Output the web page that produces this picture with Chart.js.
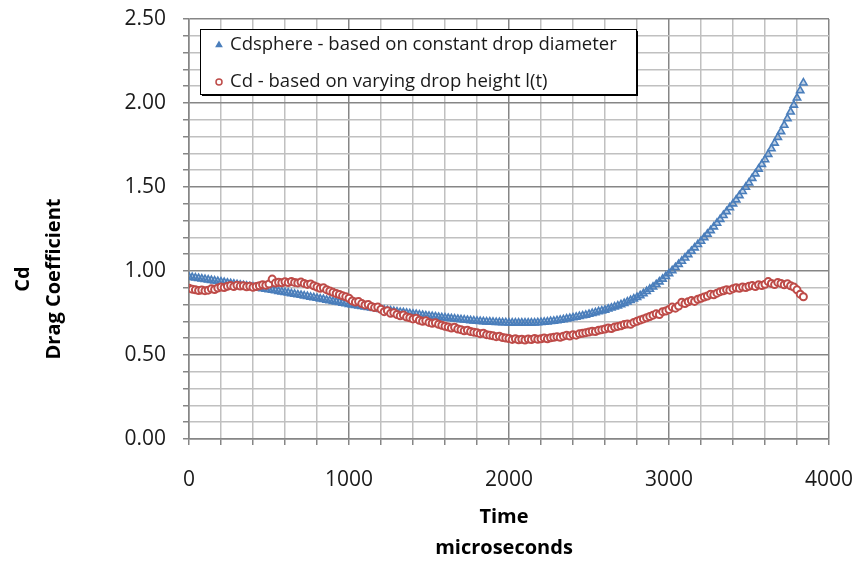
<!DOCTYPE html>
<html>
<head>
<meta charset="utf-8">
<script src="https://cdn.jsdelivr.net/npm/chart.js@4/dist/chart.umd.min.js"></script>
<style>
  body { margin: 0; background: #fff; }
  #wrap { width: 857px; height: 563px; }
</style>
</head>
<body>
<div id="wrap"><canvas id="cd-chart" width="857" height="563"></canvas></div>
<script>
// samples every 20 microseconds, starting at t = 0
const timeStep = 20;

// Cd sphere, constant drop diameter
const cdSphere = [
  0.965, 0.962, 0.959, 0.956, 0.953,
  0.950, 0.947, 0.944, 0.941, 0.938,
  0.935, 0.932, 0.929, 0.926, 0.923,
  0.920, 0.917, 0.914, 0.911, 0.908,
  0.905, 0.902, 0.899, 0.895, 0.892,
  0.889, 0.886, 0.883, 0.879, 0.876,
  0.873, 0.870, 0.866, 0.863, 0.859,
  0.856, 0.852, 0.849, 0.845, 0.842,
  0.838, 0.834, 0.831, 0.827, 0.824,
  0.820, 0.816, 0.813, 0.809, 0.806,
  0.802, 0.799, 0.796, 0.792, 0.789,
  0.786, 0.783, 0.780, 0.777, 0.774,
  0.771, 0.768, 0.765, 0.763, 0.760,
  0.757, 0.754, 0.752, 0.749, 0.747,
  0.744, 0.742, 0.739, 0.737, 0.734,
  0.732, 0.730, 0.728, 0.725, 0.723,
  0.721, 0.719, 0.717, 0.715, 0.713,
  0.711, 0.709, 0.707, 0.705, 0.704,
  0.702, 0.701, 0.699, 0.698, 0.697,
  0.696, 0.695, 0.694, 0.693, 0.693,
  0.692, 0.692, 0.691, 0.691, 0.691,
  0.691, 0.691, 0.692, 0.692, 0.693,
  0.694, 0.696, 0.698, 0.700, 0.702,
  0.705, 0.708, 0.711, 0.715, 0.718,
  0.722, 0.726, 0.730, 0.734, 0.738,
  0.743, 0.748, 0.753, 0.758, 0.763,
  0.768, 0.774, 0.780, 0.787, 0.793,
  0.800, 0.808, 0.816, 0.825, 0.834,
  0.843, 0.854, 0.866, 0.879, 0.892,
  0.905, 0.920, 0.936, 0.952, 0.968,
  0.985, 1.003, 1.021, 1.040, 1.059,
  1.078, 1.098, 1.118, 1.138, 1.158,
  1.178, 1.199, 1.220, 1.241, 1.263,
  1.285, 1.308, 1.331, 1.354, 1.377,
  1.400, 1.424, 1.449, 1.474, 1.499,
  1.525, 1.552, 1.579, 1.607, 1.635,
  1.663, 1.695, 1.728, 1.762, 1.796,
  1.830, 1.868, 1.907, 1.947, 1.988,
  2.030, 2.074, 2.120
];

// Cd from varying drop height l(t)
const cdHeight = [
  0.897, 0.892, 0.888, 0.884, 0.887,
  0.883, 0.886, 0.894, 0.890, 0.899,
  0.905, 0.902, 0.909, 0.913, 0.908,
  0.915, 0.910, 0.912, 0.906, 0.909,
  0.903, 0.908, 0.912, 0.918, 0.915,
  0.922, 0.952, 0.928, 0.933, 0.930,
  0.936, 0.931, 0.938, 0.932, 0.929,
  0.934, 0.926, 0.920, 0.923, 0.912,
  0.905, 0.897, 0.900, 0.889, 0.881,
  0.873, 0.866, 0.860, 0.852, 0.847,
  0.838, 0.822, 0.815, 0.818, 0.806,
  0.798, 0.801, 0.789, 0.782, 0.785,
  0.772, 0.758, 0.764, 0.748, 0.752,
  0.741, 0.733, 0.738, 0.726, 0.722,
  0.715, 0.719, 0.707, 0.701, 0.704,
  0.694, 0.689, 0.692, 0.683, 0.677,
  0.671, 0.667, 0.661, 0.665, 0.655,
  0.651, 0.644, 0.648, 0.640, 0.636,
  0.633, 0.627, 0.630, 0.621, 0.618,
  0.614, 0.609, 0.612, 0.604, 0.601,
  0.598, 0.593, 0.597, 0.591, 0.594,
  0.589, 0.595, 0.592, 0.598, 0.594,
  0.597, 0.601, 0.596, 0.603, 0.605,
  0.609, 0.605, 0.612, 0.617, 0.613,
  0.621, 0.618, 0.626, 0.629, 0.633,
  0.637, 0.642, 0.640, 0.647, 0.651,
  0.655, 0.661, 0.658, 0.666, 0.670,
  0.674, 0.681, 0.685, 0.683, 0.694,
  0.701, 0.708, 0.715, 0.722, 0.729,
  0.737, 0.745, 0.741, 0.758, 0.762,
  0.771, 0.785, 0.779, 0.792, 0.814,
  0.806, 0.817, 0.824, 0.819, 0.832,
  0.838, 0.845, 0.851, 0.862, 0.858,
  0.868, 0.877, 0.882, 0.889, 0.886,
  0.895, 0.900, 0.897, 0.905, 0.902,
  0.909, 0.913, 0.907, 0.918, 0.914,
  0.921, 0.937, 0.926, 0.919, 0.932,
  0.926, 0.918, 0.924, 0.912, 0.905,
  0.888, 0.862, 0.847
];

const seriesLabels = [
  'Cdsphere - based on constant drop diameter',
  'Cd - based on varying drop height l(t)'
];
const xTickLabels = [0, 1000, 2000, 3000, 4000];
const yTickLabels = [0, 0.5, 1.0, 1.5, 2.0, 2.5];
const yTitle = ['Cd', 'Drag Coefficient'];
const xTitle = ['Time', 'microseconds'];

const FONT = '"Open Sans", sans-serif';
const MAJOR = '#868686';
const MINOR = '#c0c0c0';

const toPoints = arr => arr.map((v, i) => ({ x: i * timeStep, y: v }));

// legend box drawn inside the plot, Excel style
const legendBox = {
  id: 'legendBox',
  afterDraw(chart) {
    const ctx = chart.ctx;
    const x = 200, y = 29, w = 436, h = 65;
    ctx.save();
    ctx.fillStyle = '#000';
    ctx.fillRect(x + 2, y + 2, w, h);
    ctx.fillStyle = '#fff';
    ctx.fillRect(x, y, w, h);
    ctx.strokeStyle = '#000';
    ctx.lineWidth = 1;
    ctx.strokeRect(x + 0.5, y + 0.5, w, h);
    ctx.font = '18.5px ' + FONT;
    ctx.textBaseline = 'middle';
    chart.data.datasets.forEach((ds, i) => {
      const cy = y + 16 + i * 37;
      ctx.strokeStyle = ds.pointBorderColor;
      ctx.fillStyle = ds.legendFill;
      ctx.lineWidth = 1.5;
      Chart.helpers.drawPoint(ctx, { pointStyle: ds.pointStyle, radius: 3, borderWidth: 1.5, rotation: 0 }, x + 19, cy);
      ctx.fillStyle = '#1a1a1a';
      ctx.fillText(ds.label, x + 30, cy);
    });
    ctx.restore();
  }
};

// two-line bold axis titles, placed like the original
const axisTitles = {
  id: 'axisTitles',
  afterDraw(chart) {
    const ctx = chart.ctx;
    ctx.save();
    ctx.font = 'bold 20px ' + FONT;
    ctx.fillStyle = '#000';
    ctx.textAlign = 'center';
    ctx.textBaseline = 'middle';
    ctx.save();
    ctx.translate(0, 279);
    ctx.rotate(-Math.PI / 2);
    ctx.fillText(yTitle[0], 0, 23);
    ctx.fillText(yTitle[1], 0, 54);
    ctx.restore();
    ctx.fillText(xTitle[0], 504, 517);
    ctx.fillText(xTitle[1], 504, 548);
    ctx.restore();
  }
};

const isMajorY = v => Math.round(v * 10) % 5 === 0;
const isMajorX = v => Math.round(v) % 1000 === 0;

new Chart(document.getElementById('cd-chart'), {
  type: 'scatter',
  data: {
    datasets: [{
      label: seriesLabels[0],
      data: toPoints(cdSphere),
      pointStyle: 'triangle',
      pointRadius: 4.2,
      pointBorderWidth: 1.6,
      pointBorderColor: '#4a7ebb',
      pointBackgroundColor: 'rgba(74,126,187,0.35)',
      legendFill: '#4a7ebb',
      showLine: false,
      order: 1
    }, {
      label: seriesLabels[1],
      data: toPoints(cdHeight),
      pointStyle: 'circle',
      pointRadius: 3.5,
      pointBorderWidth: 2,
      pointBorderColor: '#be4b48',
      pointBackgroundColor: '#ffffff',
      legendFill: '#ffffff',
      showLine: false,
      order: 0
    }]
  },
  options: {
    responsive: false,
    animation: false,
    layout: { padding: { top: 19, right: 28, left: 0, bottom: 0 } },
    plugins: {
      legend: { display: false },
      tooltip: { enabled: false }
    },
    scales: {
      x: {
        type: 'linear',
        min: 0,
        max: 4000,
        afterFit: s => {
          s.height = 124;
          s.paddingLeft = 0;
          s.paddingRight = 0;
        },
        ticks: {
          stepSize: 200,
          autoSkip: false,
          maxRotation: 0,
          padding: 22,
          color: '#1a1a1a',
          font: { family: FONT, size: 21 },
          callback: v => xTickLabels.includes(v) ? String(v) : ''
        },
        grid: {
          color: c => isMajorX(c.tick.value) ? MAJOR : MINOR,
          lineWidth: 1.5,
          tickLength: 6,
          tickColor: MAJOR
        },
        border: { color: MAJOR, width: 1.5 }
      },
      y: {
        min: 0,
        max: 2.5,
        afterFit: s => {
          s.width = 189;
          s.paddingTop = 0;
          s.paddingBottom = 0;
        },
        ticks: {
          stepSize: 0.1,
          autoSkip: false,
          padding: 17,
          color: '#1a1a1a',
          font: { family: FONT, size: 21 },
          callback: v => isMajorY(v) && yTickLabels.some(t => Math.abs(t - v) < 1e-6) ? v.toFixed(2) : ''
        },
        grid: {
          color: c => isMajorY(c.tick.value) ? MAJOR : MINOR,
          lineWidth: 1.5,
          tickLength: 6,
          tickColor: MAJOR
        },
        border: { color: MAJOR, width: 1.5 }
      }
    }
  },
  plugins: [legendBox, axisTitles]
});
</script>
</body>
</html>
